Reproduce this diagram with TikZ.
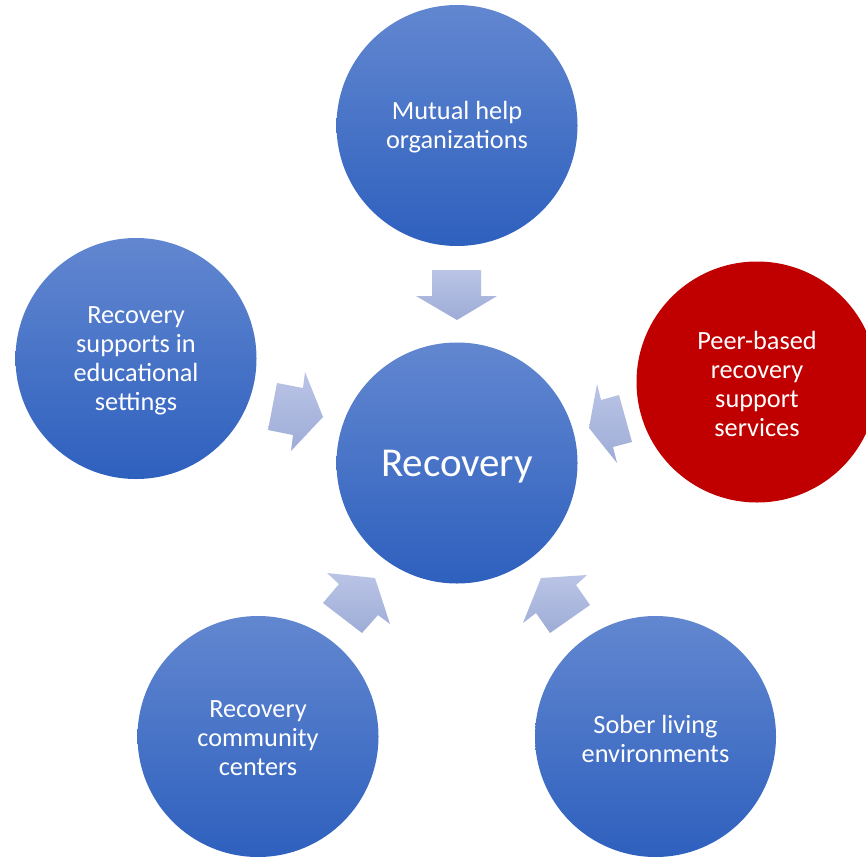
\documentclass[tikz,border=0pt]{standalone}
\usepackage{fontspec}
\setmainfont{Carlito}
\begin{document}
\begin{tikzpicture}[x=1pt,y=-1pt,
  bubble/.style={circle,minimum size=241pt,inner sep=0pt},
  bubbletext/.style={text=white,align=center,inner sep=0pt,yshift=-2pt,
    font=\fontsize{26.3}{29}\selectfont},
  bluebubble/.style={bubble,top color={rgb,255:red,98;green,135;blue,208},
    bottom color={rgb,255:red,46;green,96;blue,190}},
  redbubble/.style={bubble,fill={rgb,255:red,192;green,0;blue,0}},
  blockarrow/.style={top color={rgb,255:red,186;green,196;blue,230},
    bottom color={rgb,255:red,158;green,172;blue,214}}]
\useasboundingbox (0,0) rectangle (866,856);
\clip (0,0) rectangle (866,856);
\node[bluebubble,label={[bubbletext,yshift=-2pt,font=\fontsize{41}{45}\selectfont]center:Recovery}] (center) at (457,463) {};
\node[bluebubble,label={[bubbletext]center:Mutual help\\organizations}] (top) at (457,125.5) {};
\node[redbubble,label={[bubbletext]center:Peer-based\\recovery\\support\\services}] (peer) at (757,382) {};
\node[bluebubble,label={[bubbletext]center:Recovery\\supports in\\educational\\settings}] (edu) at (136,358.5) {};
\node[bluebubble,label={[bubbletext]center:Recovery\\community\\centers}] (rcc) at (258,736.5) {};
\node[bluebubble,label={[bubbletext]center:Sober living\\environments}] (sober) at (655.5,736.5) {};
% block arrows
\path[blockarrow] (432,270) -- (481,270) -- (481,296) -- (497,296) -- (457,320) -- (416,296) -- (432,296) -- cycle;
\path[blockarrow] (619,395) -- (632,442) -- (613,447) -- (617,463) -- (589,428) -- (597,384) -- (601,400) -- cycle;
\path[blockarrow] (277,383) -- (303,388) -- (305,372) -- (323,417) -- (291,451) -- (293,435) -- (268,430) -- cycle;
\path[blockarrow] (323,603) -- (339,584) -- (327,573) -- (375,578) -- (390,624) -- (378,615) -- (362,633) -- cycle;
\path[blockarrow] (590,605) -- (576,585) -- (587,575) -- (541,578) -- (523,623) -- (536,613) -- (550,633) -- cycle;
\end{tikzpicture}
\end{document}
